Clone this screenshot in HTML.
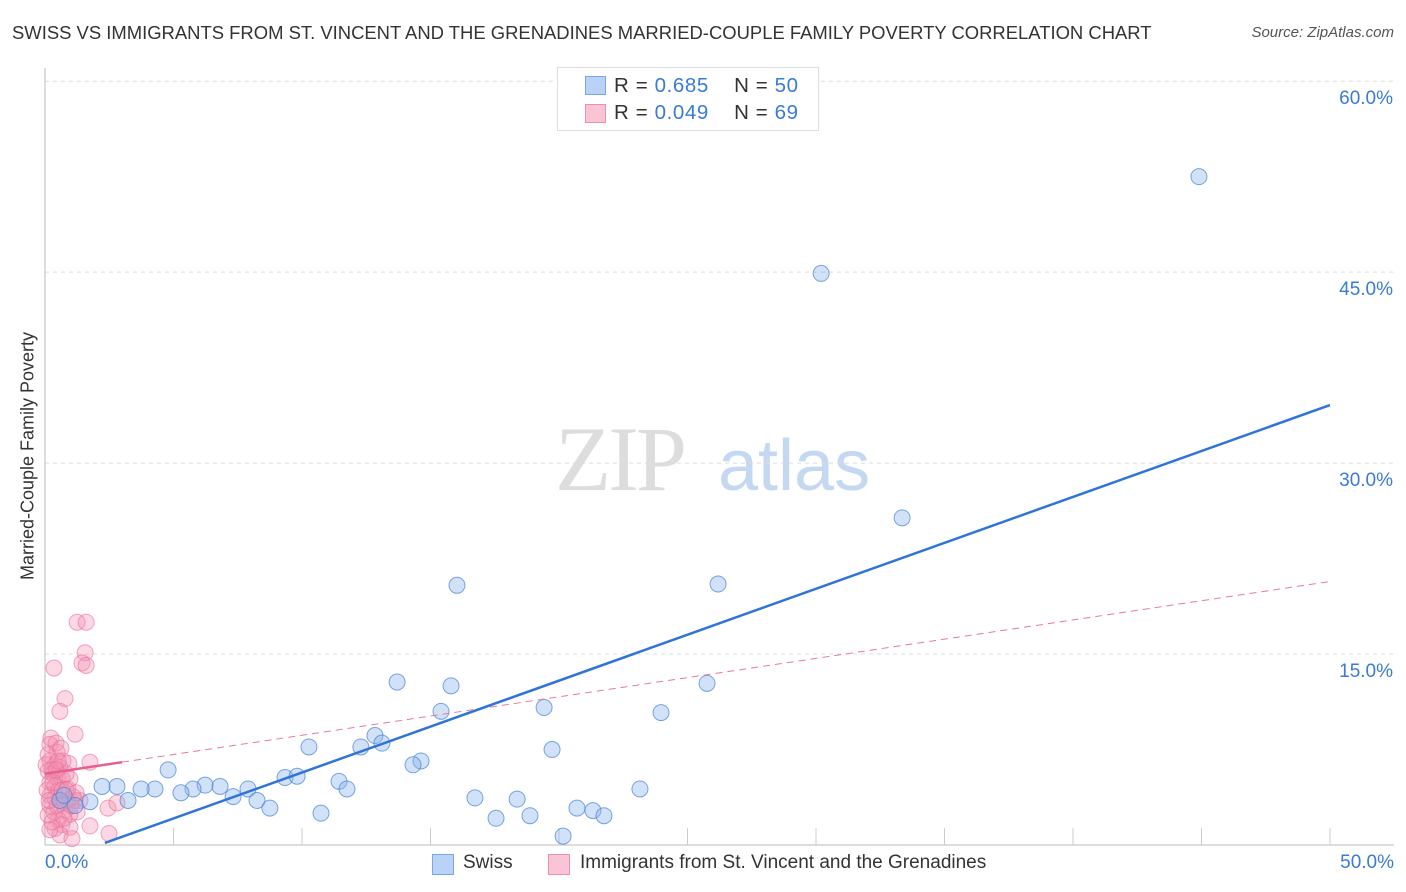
<!DOCTYPE html>
<html><head><meta charset="utf-8"><style>
body{margin:0;background:#fff;font-family:"Liberation Sans",sans-serif;}
#wrap{position:relative;width:1406px;height:892px;overflow:hidden;}
.t{position:absolute;white-space:nowrap;}
</style></head><body>
<div id="wrap">
<div class="t" style="left:12px;top:22px;font-size:18.45px;color:#333;">SWISS VS IMMIGRANTS FROM ST. VINCENT AND THE GRENADINES MARRIED-COUPLE FAMILY POVERTY CORRELATION CHART</div>
<div class="t" style="right:12px;top:24px;font-size:15px;color:#555;font-style:italic;">Source: ZipAtlas.com</div>
<svg id="svg" width="1406" height="892" style="position:absolute;left:0;top:0"></svg>
</div>
<script>
const xTicks=[0,5,10,15,20,25,30,35,40,45,50];
const yTicks=[15,30,45,60];
const yTickLabels=["15.0%","30.0%","45.0%","60.0%"];
const swissX=[44.9,30.2,33.35,16.03,26.19,13.7,15.8,25.76,19.42,15.41,23.97,10.27,12.29,12.84,13.11,19.73,14.63,14.32,4.79,9.34,9.81,11.44,11.75,6.23,6.81,7.9,5.76,5.29,4.28,3.74,2.8,2.22,3.23,1.75,7.32,8.25,8.75,10.74,16.73,18.37,17.55,18.87,20.70,21.32,21.75,23.15,20.16,0.58,1.17,0.74];
const swissY=[52.5,44.9,25.7,20.4,20.5,12.8,12.5,12.7,10.8,10.5,10.4,7.7,7.7,8.6,8.0,7.5,6.6,6.3,5.9,5.3,5.4,5.0,4.4,4.7,4.6,4.4,4.4,4.1,4.4,4.4,4.6,4.6,3.5,3.4,3.8,3.5,2.9,2.5,3.7,3.6,2.1,2.3,2.9,2.7,2.3,4.4,0.7,3.5,3.1,3.9];
const imX=[1.25,1.6,1.56,1.44,1.6,0.35,0.78,0.58,1.17,0.23,1.75,0.19,0.47,0.19,0.39,0.58,0.12,0.31,0.51,0.66,0.19,0.39,0.97,0.89,0.19,0.39,0.66,1.17,1.36,0.78,0.97,1.25,0.51,0.66,0.97,0.39,1.75,2.45,2.8,2.49,0.58,1.05,0.19,0.08,0.27,0.12,0.43,0.70,0.82,1.09,0.35,0.54,0.86,0.12,0.27,0.74,0.47,0.93,0.62,0.16,0.31,0.04,1.01,1.21,0.51,0.66,0.19,0.82,0.43];
const imY=[17.5,17.5,15.1,14.3,14.1,13.9,11.5,10.5,8.7,8.4,6.5,7.9,7.3,6.6,6.3,6.1,5.8,5.6,5.3,5.2,4.9,4.6,5.2,4.4,3.9,3.7,3.3,3.5,3.5,2.7,2.4,2.6,2.0,1.6,1.4,1.3,1.5,2.9,3.3,0.9,0.8,0.5,3.1,4.3,5.9,7.1,8.0,6.6,5.6,3.8,2.6,4.3,3.5,2.36,1.8,2.1,3.1,6.4,7.6,3.5,4.9,6.3,3.1,4.1,6.6,4.3,1.2,4.3,5.9];
const swissLine=[2.33,0.16,50,34.56];
const imLine=[0,5.6,50,20.7];
const X=v=>45+v*25.7, Y=v=>845-v*12.73;
const svg=document.getElementById('svg');const NS='http://www.w3.org/2000/svg';
function mk(t,a,p){const e=document.createElementNS(NS,t);for(const k in a)e.setAttribute(k,a[k]);(p||svg).appendChild(e);return e;}
let w=mk('text',{x:555,y:490,'font-size':92,fill:'#ddd','font-family':'Liberation Serif',style:'letter-spacing:-3px'});w.textContent='ZIP';


let w2=mk('text',{x:718,y:490,'font-size':72,fill:'#c5d8f2','font-family':'Liberation Sans'});w2.textContent='atlas';


yTicks.forEach((v,i)=>{const g=mk('line',{x1:45,x2:1394,y1:Y(v),y2:Y(v),stroke:'#ddd','stroke-dasharray':'4,4'});


const t=mk('text',{x:1393,y:Y(v)+23,'text-anchor':'end','font-size':19,fill:'#3a7bd5'});t.textContent=yTickLabels[i];

});
mk('line',{x1:45,x2:45,y1:68,y2:845,stroke:'#bbb'});
mk('line',{x1:45,x2:1394,y1:845,y2:845,stroke:'#bbb'});
xTicks.forEach(v=>{if(v>0){const l=mk('line',{x1:X(v),x2:X(v),y1:828,y2:845,stroke:'#ccc'});

}});
imX.forEach((x,i)=>{const c=mk('circle',{cx:X(x),cy:Y(imY[i]),r:8,fill:'rgba(244,143,177,0.35)',stroke:'rgba(232,110,150,0.6)','stroke-width':1});

});
swissX.forEach((x,i)=>{const c=mk('circle',{cx:X(x),cy:Y(swissY[i]),r:8,fill:'rgba(140,180,235,0.4)',stroke:'rgba(70,130,210,0.7)','stroke-width':1});

});
const ps=(x)=>imLine[1]+(imLine[3]-imLine[1])*(x-imLine[0])/(imLine[2]-imLine[0]);
let l1=mk('line',{x1:X(3),y1:Y(ps(3)),x2:X(50),y2:Y(ps(50)),stroke:'#e8799c','stroke-width':1,'stroke-dasharray':'7,5'});


let l2=mk('line',{x1:X(0),y1:Y(ps(0)),x2:X(3),y2:Y(ps(3)),stroke:'#e8608a','stroke-width':2.5});


let l3=mk('line',{x1:X(swissLine[0]),y1:Y(swissLine[1]),x2:X(swissLine[2]),y2:Y(swissLine[3]),stroke:'#2f74d8','stroke-width':2.5});


</script>
<div class="t" style="left:557px;top:67px;width:260px;height:62px;border:1px solid #ddd;background:#fff;">
 <div style="position:absolute;left:27px;top:8px;width:19px;height:17px;background:#b9d2f5;border:1px solid #7aa6e6"></div>
 <div style="position:absolute;left:27px;top:36px;width:19px;height:17px;background:#f9c5d5;border:1px solid #ee8fb0"></div>
 <div style="position:absolute;left:56px;top:6px;font-size:20.5px;color:#333;letter-spacing:0.6px">R = <span style="color:#3a7bd5">0.685</span>&nbsp;&nbsp;&nbsp;&nbsp;N = <span style="color:#3a7bd5">50</span></div>
 <div style="position:absolute;left:56px;top:33px;font-size:20.5px;color:#333;letter-spacing:0.6px">R = <span style="color:#3a7bd5">0.049</span>&nbsp;&nbsp;&nbsp;&nbsp;N = <span style="color:#3a7bd5">69</span></div>
</div>
<div class="t" style="left:45px;top:852px;font-size:19px;color:#3a7bd5">0.0%</div>
<div class="t" style="right:12px;top:852px;font-size:19px;color:#3a7bd5">50.0%</div>
<div class="t" style="left:432px;top:854px;width:20px;height:19px;background:#b9d2f5;border:1px solid #7aa6e6"></div>
<div class="t" style="left:463px;top:852px;font-size:19px;color:#333">Swiss</div>
<div class="t" style="left:548px;top:854px;width:20px;height:19px;background:#f9c5d5;border:1px solid #ee8fb0"></div>
<div class="t" style="left:580px;top:852px;font-size:19px;color:#333">Immigrants from St. Vincent and the Grenadines</div>
<div class="t" style="left:28px;top:456px;font-size:18px;color:#333;transform:translate(-50%,-50%) rotate(-90deg);">Married-Couple Family Poverty</div>
</body></html>
